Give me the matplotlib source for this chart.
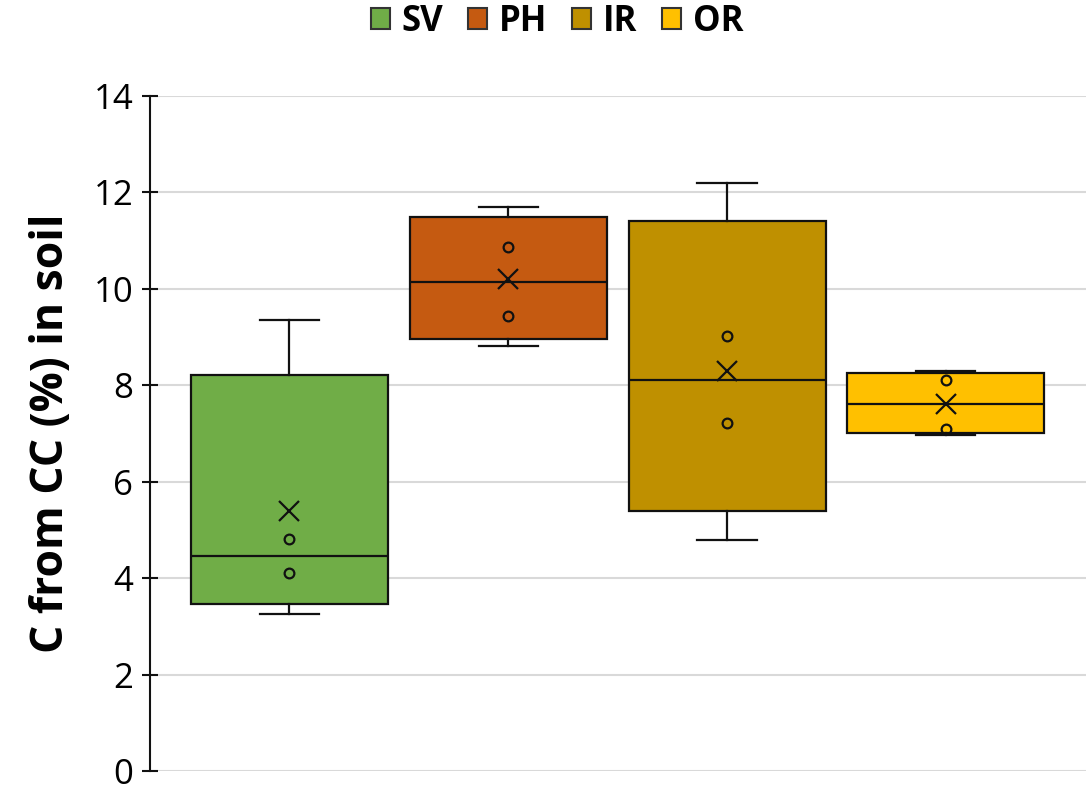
import numpy as np
import matplotlib
matplotlib.use("Agg")
import matplotlib.pyplot as plt
from matplotlib.patches import Patch

plt.rcParams['font.family'] = ['Open Sans', 'DejaVu Sans']

groups = ["SV", "PH", "IR", "OR"]
colors = ["#70AD47", "#C55A11", "#BF9000", "#FFC000"]
sv = [3.25, 4.11, 4.82, 9.35]
ph = [8.81, 9.43, 10.87, 11.69]
ir = [4.79, 7.22, 9.02, 12.19]
orr = [6.97, 7.10, 8.11, 8.30]
data = [sv, ph, ir, orr]
yticks = [0, 2, 4, 6, 8, 10, 12, 14]
ylabel = "C from CC (%) in soil"

fig = plt.figure(figsize=(10.86, 7.92), dpi=100)
ax = fig.add_axes([150/1086, 21/792, 936/1086, 675/792])

stats = []
for vals in data:
    v = np.sort(np.array(vals))
    q1, med, q3 = np.percentile(v, [25, 50, 75], method='weibull')
    stats.append(dict(med=med, q1=q1, q3=q3, whislo=v.min(), whishi=v.max(),
                      mean=v.mean(), fliers=[]))

pos = np.arange(len(groups))
bp = ax.bxp(stats, positions=pos, widths=0.9, patch_artist=True, showfliers=False,
            showmeans=False, capwidths=0.27,
            boxprops=dict(edgecolor='#111111', linewidth=1.6),
            medianprops=dict(color='#111111', linewidth=1.6),
            whiskerprops=dict(color='#111111', linewidth=1.6),
            capprops=dict(color='#111111', linewidth=1.6))
for patch, c in zip(bp['boxes'], colors):
    patch.set_facecolor(c)

for p, vals, s in zip(pos, data, stats):
    v = np.sort(np.array(vals))
    inner = v[1:-1]
    ax.plot([p]*len(inner), inner, 'o', mfc='none', mec='#111111', ms=7, mew=1.6, zorder=4)
    ax.plot([p], [s['mean']], 'x', color='#111111', ms=14, mew=1.6, zorder=4)

ax.set_xlim(-0.636, 3.64)
ax.set_ylim(0, 14)
ax.set_yticks(yticks)
ax.set_yticklabels([str(t) for t in yticks], fontsize=25)
ax.set_xticks([])
ax.yaxis.grid(True, color='#d9d9d9', linewidth=1.5)
ax.set_axisbelow(True)
for sp in ['top', 'right', 'bottom']:
    ax.spines[sp].set_visible(False)
ax.spines['left'].set_linewidth(1.5)
ax.spines['left'].set_color('#111111')
ax.tick_params(axis='y', direction='inout', length=12, width=1.5, color='#111111', pad=6)
ax.set_ylabel(ylabel, fontsize=32, fontweight='bold', labelpad=14)

handles = [Patch(facecolor=c, edgecolor='#333333', linewidth=1.5, label=g) for g, c in zip(groups, colors)]
fig.legend(handles=handles, loc='center', bbox_to_anchor=(557/1086, 1 - 22/792), ncol=4,
           frameon=False, prop=dict(size=25, weight='bold'), handlelength=0.55, handleheight=0.55,
           handletextpad=0.35, columnspacing=0.7)

fig.savefig("out.png", dpi=100)
